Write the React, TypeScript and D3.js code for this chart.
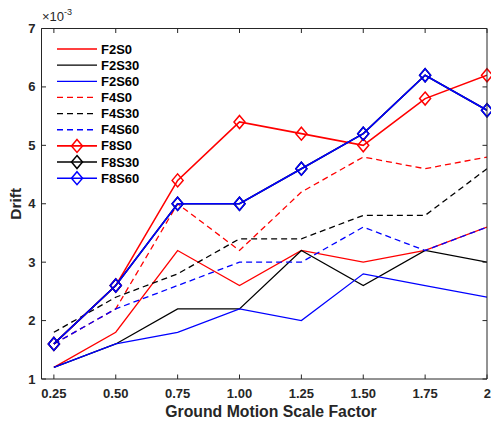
import React from "react";
import * as d3 from "d3";

const xVals = [0.25, 0.5, 0.75, 1.0, 1.25, 1.5, 1.75, 2.0];
const xTickLabels = ["0.25", "0.50", "0.75", "1.00", "1.25", "1.50", "1.75", "2"];
const yTicks = [1, 2, 3, 4, 5, 6, 7];

const F2S0 = [1.2, 1.8, 3.2, 2.6, 3.2, 3.0, 3.2, 3.6];
const F2S30 = [1.2, 1.6, 2.2, 2.2, 3.2, 2.6, 3.2, 3.0];
const F2S60 = [1.2, 1.6, 1.8, 2.2, 2.0, 2.8, 2.6, 2.4];
const F4S0 = [1.6, 2.2, 4.0, 3.2, 4.2, 4.8, 4.6, 4.8];
const F4S30 = [1.8, 2.4, 2.8, 3.4, 3.4, 3.8, 3.8, 4.6];
const F4S60 = [1.6, 2.2, 2.6, 3.0, 3.0, 3.6, 3.2, 3.6];
const F8S0 = [1.6, 2.6, 4.4, 5.4, 5.2, 5.0, 5.8, 6.2];
const F8S30 = [1.6, 2.6, 4.0, 4.0, 4.6, 5.2, 6.2, 5.6];
const F8S60 = [1.6, 2.6, 4.0, 4.0, 4.6, 5.2, 6.2, 5.6];

const series = [
  { name: "F2S0", values: F2S0, color: "#ff0000", dash: false, marker: false },
  { name: "F2S30", values: F2S30, color: "#000000", dash: false, marker: false },
  { name: "F2S60", values: F2S60, color: "#0000ff", dash: false, marker: false },
  { name: "F4S0", values: F4S0, color: "#ff0000", dash: true, marker: false },
  { name: "F4S30", values: F4S30, color: "#000000", dash: true, marker: false },
  { name: "F4S60", values: F4S60, color: "#0000ff", dash: true, marker: false },
  { name: "F8S0", values: F8S0, color: "#ff0000", dash: false, marker: true },
  { name: "F8S30", values: F8S30, color: "#000000", dash: false, marker: true },
  { name: "F8S60", values: F8S60, color: "#0000ff", dash: false, marker: true },
];

const W = 491;
const H = 423;
const L = 41.5;
const R = 487;
const T = 28.5;
const B = 379;

const font = "'Liberation Sans', Arial, Helvetica, sans-serif";
const axisColor = "#262626";

function Diamond({ x, y, color }: { x: number; y: number; color: string }) {
  const w = 5.5;
  const h = 6.5;
  return (
    <path
      d={`M${x},${y - h}L${x + w},${y}L${x},${y + h}L${x - w},${y}Z`}
      fill="none"
      stroke={color}
      strokeWidth={1.5}
    />
  );
}

export default function App() {
  const x = d3.scaleLinear().domain([0.2, 2]).range([L, R]);
  const y = d3.scaleLinear().domain([1, 7]).range([B, T]);
  const line = d3
    .line<number>()
    .x((_, i) => x(xVals[i]))
    .y((d) => y(d));

  const legX1 = 57;
  const legX2 = 97;
  const legY0 = 49;
  const legDy = 16.15;

  return (
    <svg
      width={W}
      height={H}
      style={{ position: "absolute", left: 0, top: 0 }}
      fontFamily={font}
    >
      <rect x={0} y={0} width={W} height={H} fill="#fff" />
      <defs>
        <clipPath id="plotclip">
          <rect x={L} y={T} width={R - L} height={B - T} />
        </clipPath>
      </defs>
      <g clipPath="url(#plotclip)">
        {series.map((s) => (
          <path
            key={s.name}
            d={line(s.values) || ""}
            fill="none"
            stroke={s.color}
            strokeWidth={s.marker ? 1.6 : 1.3}
            strokeDasharray={s.dash ? "6,4" : undefined}
          />
        ))}
      </g>
      {series
        .filter((s) => s.marker)
        .map((s) =>
          s.values.map((v, i) => (
            <Diamond key={s.name + i} x={x(xVals[i])} y={y(v)} color={s.color} />
          ))
        )}
      <g stroke={axisColor} strokeWidth={1} fill="none">
        <line x1={L} y1={B} x2={R} y2={B} />
        <line x1={L} y1={T} x2={R} y2={T} />
        <line x1={L} y1={T} x2={L} y2={B} />
        <line x1={R} y1={T} x2={R} y2={B} />
        {xVals.map((v) => (
          <g key={"xt" + v}>
            <line x1={x(v)} y1={B} x2={x(v)} y2={B - 4.5} />
            <line x1={x(v)} y1={T} x2={x(v)} y2={T + 4.5} />
          </g>
        ))}
        {yTicks.map((v) => (
          <g key={"yt" + v}>
            <line x1={L} y1={y(v)} x2={L + 4.5} y2={y(v)} />
            <line x1={R} y1={y(v)} x2={R - 4.5} y2={y(v)} />
          </g>
        ))}
      </g>
      {xVals.map((v, i) => (
        <text
          key={"xl" + v}
          x={x(v)}
          y={B + 18.5}
          textAnchor={i === xVals.length - 1 ? "end" : "middle"}
          dx={i === xVals.length - 1 ? 4 : 0}
          fontSize={13}
          fontWeight="bold"
          fill={axisColor}
        >
          {xTickLabels[i]}
        </text>
      ))}
      {yTicks.map((v) => (
        <text
          key={"yl" + v}
          x={L - 6}
          y={y(v) + 4.5}
          textAnchor="end"
          fontSize={13}
          fontWeight="bold"
          fill={axisColor}
        >
          {v}
        </text>
      ))}
      <text x={42} y={21} fontSize={13} fill={axisColor}>
        <tspan>×</tspan>
        <tspan fontSize={13}>10</tspan>
        <tspan fontSize={9} dy={-6}>-3</tspan>
      </text>
      <text
        x={271}
        y={416.5}
        textAnchor="middle"
        fontSize={15.8}
        fontWeight="bold"
        fill={axisColor}
      >
        Ground Motion Scale Factor
      </text>
      <text
        transform={`translate(20.5,${(T + B) / 2}) rotate(-90)`}
        textAnchor="middle"
        fontSize={15.5}
        fontWeight="bold"
        fill={axisColor}
      >
        Drift
      </text>
      {series.map((s, i) => {
        const ly = legY0 + i * legDy;
        return (
          <g key={"lg" + s.name}>
            <line
              x1={legX1}
              y1={ly}
              x2={legX2}
              y2={ly}
              stroke={s.color}
              strokeWidth={s.marker ? 1.6 : 1.3}
              strokeDasharray={s.dash ? "6,4" : undefined}
            />
            {s.marker && <Diamond x={(legX1 + legX2) / 2} y={ly} color={s.color} />}
            <text
              x={101}
              y={ly + 4.5}
              fontSize={13}
              fontWeight="bold"
              fill="#000"
            >
              {s.name}
            </text>
          </g>
        );
      })}
    </svg>
  );
}
